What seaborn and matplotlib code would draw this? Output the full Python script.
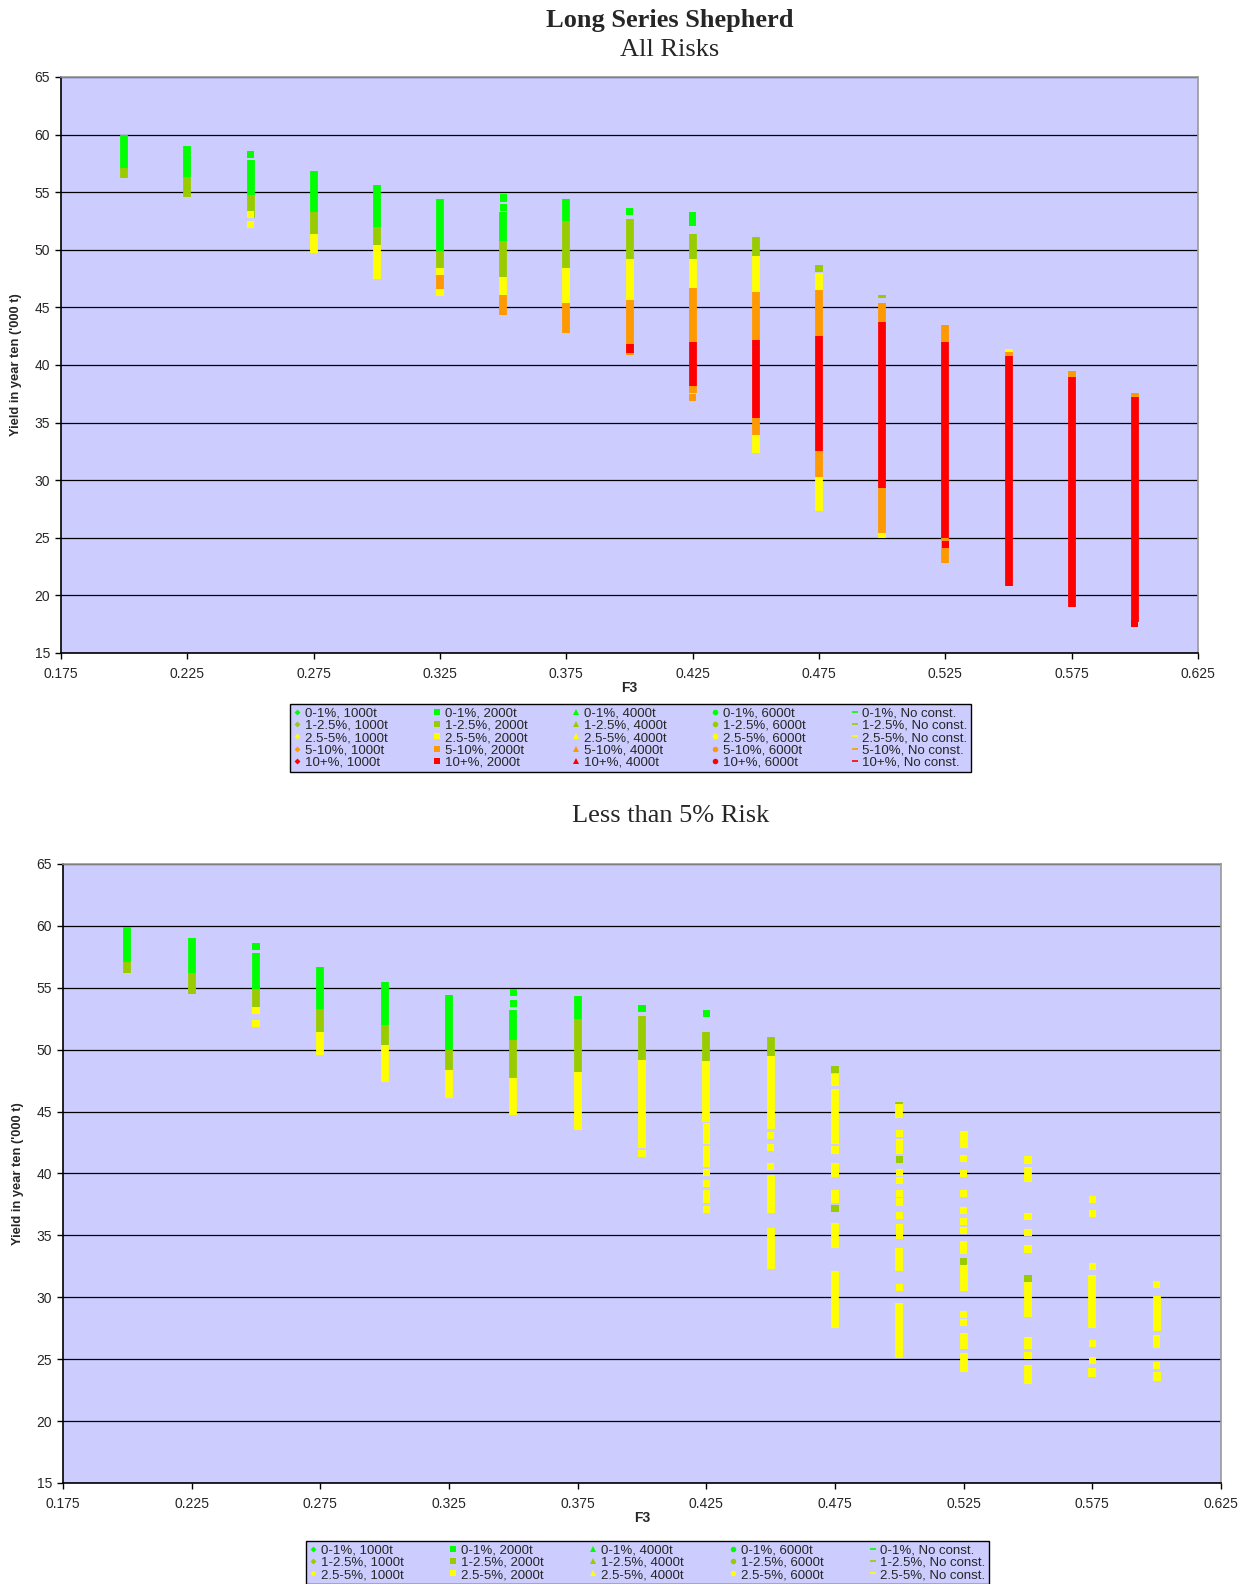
import numpy as np
import pandas as pd
import matplotlib
matplotlib.use("Agg")
import matplotlib.pyplot as plt
from matplotlib.lines import Line2D
import seaborn as sns

# ---- risk classes and colours ----
risk_levels = ["0-1%", "1-2.5%", "2.5-5%", "5-10%", "10+%"]
risk_colors = {"0-1%": "#00FF00", "1-2.5%": "#99CC00", "2.5-5%": "#FFFF00",
               "5-10%": "#FF9900", "10+%": "#FF0000"}
constraints = ["1000t", "2000t", "4000t", "6000t", "No const."]
constraint_markers = {"1000t": "D", "2000t": "s", "4000t": "^", "6000t": "o", "No const.": "_"}

# ---- All risks: dense runs of runs (F3, low, high, risk) ----
all_span_f3 = [0.200, 0.200,
               0.225, 0.225,
               0.250, 0.250,
               0.275, 0.275, 0.275,
               0.300, 0.300, 0.300,
               0.325, 0.325, 0.325, 0.325,
               0.350, 0.350, 0.350, 0.350,
               0.375, 0.375, 0.375, 0.375,
               0.400, 0.400, 0.400, 0.400,
               0.425, 0.425, 0.425, 0.425, 0.425,
               0.450, 0.450, 0.450, 0.450, 0.450, 0.450,
               0.475, 0.475, 0.475, 0.475, 0.475, 0.475,
               0.500, 0.500, 0.500, 0.500, 0.500,
               0.525, 0.525, 0.525,
               0.550, 0.550, 0.550,
               0.575, 0.575,
               0.600, 0.600]
all_span_lo = [57.0, 56.2,
               56.3, 54.6,
               54.8, 52.8,
               53.3, 51.4, 49.7,
               52.0, 50.4, 47.5,
               49.9, 48.4, 47.8, 46.4,
               50.8, 47.6, 46.1, 44.3,
               52.5, 48.4, 45.4, 42.8,
               49.2, 45.6, 40.9, 41.0,
               49.2, 46.7, 42.0, 38.2, 37.6,
               49.5, 46.3, 42.2, 35.4, 33.9, 32.4,
               48.2, 46.5, 42.5, 32.5, 30.3, 27.3,
               45.8, 43.7, 29.3, 25.4, 25.0,
               42.0, 25.0, 22.8,
               41.1, 40.8, 20.8,
               39.0, 19.0,
               37.2, 17.7]
all_span_hi = [60.0, 57.1,
               59.0, 56.3,
               57.8, 54.8,
               56.8, 53.3, 51.4,
               55.6, 52.0, 50.4,
               54.4, 49.9, 48.4, 47.8,
               53.3, 50.8, 47.6, 46.1,
               54.4, 52.5, 48.4, 45.4,
               52.7, 49.2, 45.6, 41.8,
               51.4, 49.2, 46.7, 42.0, 38.2,
               51.1, 49.5, 46.3, 42.2, 35.4, 33.9,
               48.5, 48.0, 46.5, 42.5, 32.5, 30.3,
               46.1, 45.4, 43.7, 29.3, 25.4,
               43.5, 42.0, 25.0,
               41.4, 41.1, 40.8,
               39.5, 39.0,
               37.6, 37.2]
all_span_risk = ["0-1%", "1-2.5%",
                 "0-1%", "1-2.5%",
                 "0-1%", "1-2.5%",
                 "0-1%", "1-2.5%", "2.5-5%",
                 "0-1%", "1-2.5%", "2.5-5%",
                 "0-1%", "1-2.5%", "2.5-5%", "5-10%",
                 "0-1%", "1-2.5%", "2.5-5%", "5-10%",
                 "0-1%", "1-2.5%", "2.5-5%", "5-10%",
                 "1-2.5%", "2.5-5%", "5-10%", "10+%",
                 "1-2.5%", "2.5-5%", "5-10%", "10+%", "5-10%",
                 "1-2.5%", "2.5-5%", "5-10%", "10+%", "5-10%", "2.5-5%",
                 "1-2.5%", "2.5-5%", "5-10%", "10+%", "5-10%", "2.5-5%",
                 "1-2.5%", "5-10%", "10+%", "5-10%", "2.5-5%",
                 "5-10%", "10+%", "5-10%",
                 "2.5-5%", "5-10%", "10+%",
                 "5-10%", "10+%",
                 "5-10%", "10+%"]

# ---- All risks: isolated runs ----
all_pt_f3 = [0.250, 0.250, 0.250, 0.325, 0.350, 0.350, 0.400, 0.425, 0.425, 0.425, 0.475, 0.525, 0.600]
all_pt_y = [58.3, 53.1, 52.2, 46.3, 54.5, 53.7, 53.3, 53.0, 52.4, 37.2, 48.4, 24.4, 17.6]
all_pt_risk = ["0-1%", "2.5-5%", "2.5-5%", "2.5-5%", "0-1%", "0-1%", "0-1%", "0-1%", "0-1%",
               "5-10%", "1-2.5%", "10+%", "10+%"]

# ---- Less than 5% risk: dense runs ----
low_span_f3 = [0.200, 0.200,
               0.225, 0.225,
               0.250, 0.250,
               0.275, 0.275, 0.275,
               0.300, 0.300, 0.300,
               0.325, 0.325, 0.325,
               0.350, 0.350, 0.350,
               0.375, 0.375, 0.375,
               0.400, 0.400,
               0.425, 0.425,
               0.450, 0.450, 0.450, 0.450,
               0.475, 0.475, 0.475, 0.475,
               0.500, 0.500, 0.500, 0.500,
               0.525, 0.525, 0.525, 0.525,
               0.550, 0.550, 0.550, 0.550, 0.550,
               0.575, 0.575,
               0.600, 0.600]
low_span_lo = [57.1, 56.2,
               56.2, 54.5,
               54.9, 52.9,
               53.3, 51.4, 49.6,
               52.0, 50.4, 47.4,
               50.0, 48.4, 46.1,
               50.8, 47.7, 44.7,
               52.5, 48.2, 43.5,
               49.2, 42.1,
               49.1, 44.2,
               49.5, 43.6, 36.8, 32.3,
               47.1, 42.9, 34.0, 27.5,
               44.5, 32.1, 25.1, 45.6,
               42.1, 30.5, 25.8, 24.0,
               40.8, 39.3, 28.4, 25.8, 23.0,
               27.5, 23.6,
               27.3, 23.2]
low_span_hi = [59.9, 57.1,
               59.0, 56.2,
               57.8, 54.9,
               56.7, 53.3, 51.4,
               55.5, 52.0, 50.4,
               54.4, 50.0, 48.4,
               53.2, 50.8, 47.7,
               54.3, 52.5, 48.2,
               52.7, 49.2,
               51.4, 49.1,
               51.0, 49.5, 39.9, 35.6,
               48.0, 46.8, 36.0, 32.1,
               45.6, 34.0, 29.5, 45.8,
               43.4, 32.7, 27.1, 25.5,
               41.4, 40.5, 31.2, 26.8, 24.5,
               31.8, 24.3,
               30.1, 24.0]
low_span_risk = ["0-1%", "1-2.5%",
                 "0-1%", "1-2.5%",
                 "0-1%", "1-2.5%",
                 "0-1%", "1-2.5%", "2.5-5%",
                 "0-1%", "1-2.5%", "2.5-5%",
                 "0-1%", "1-2.5%", "2.5-5%",
                 "0-1%", "1-2.5%", "2.5-5%",
                 "0-1%", "1-2.5%", "2.5-5%",
                 "1-2.5%", "2.5-5%",
                 "1-2.5%", "2.5-5%",
                 "1-2.5%", "2.5-5%", "2.5-5%", "2.5-5%",
                 "2.5-5%", "2.5-5%", "2.5-5%", "2.5-5%",
                 "2.5-5%", "2.5-5%", "2.5-5%", "1-2.5%",
                 "2.5-5%", "2.5-5%", "2.5-5%", "2.5-5%",
                 "2.5-5%", "2.5-5%", "2.5-5%", "2.5-5%", "2.5-5%",
                 "2.5-5%", "2.5-5%",
                 "2.5-5%", "2.5-5%"]

# ---- Less than 5% risk: isolated runs ----
low_pt_f3 = [0.250, 0.250, 0.250,
             0.350, 0.350,
             0.400, 0.400,
             0.425, 0.425, 0.425, 0.425, 0.425, 0.425, 0.425, 0.425, 0.425, 0.425, 0.425, 0.425,
             0.450, 0.450, 0.450,
             0.475, 0.475, 0.475, 0.475, 0.475, 0.475, 0.475, 0.475,
             0.500, 0.500, 0.500, 0.500, 0.500, 0.500, 0.500, 0.500, 0.500, 0.500, 0.500, 0.500,
             0.525, 0.525, 0.525, 0.525, 0.525, 0.525, 0.525, 0.525, 0.525, 0.525, 0.525,
             0.550, 0.550, 0.550, 0.550, 0.550,
             0.575, 0.575, 0.575, 0.575, 0.575,
             0.600, 0.600, 0.600, 0.600]
low_pt_y = [58.3, 53.2, 52.1,
            54.6, 53.7,
            53.3, 41.6,
            52.9, 43.8, 43.2, 42.7, 41.9, 41.4, 40.8, 40.1, 39.2, 38.4, 37.9, 37.1,
            43.1, 42.1, 40.6,
            48.4, 42.7, 41.9, 40.6, 40.0, 38.4, 37.9, 37.2,
            43.2, 42.5, 41.9, 41.1, 40.1, 39.4, 38.4, 37.7, 36.6, 35.6, 35.0, 30.8,
            41.2, 40.0, 38.4, 37.0, 36.1, 35.4, 34.3, 33.8, 32.9, 28.6, 28.0,
            36.5, 35.2, 33.9, 31.5, 25.3,
            37.9, 36.8, 32.5, 26.3, 24.9,
            31.0, 26.7, 26.2, 24.5]
low_pt_risk = ["0-1%", "2.5-5%", "2.5-5%",
               "0-1%", "0-1%",
               "0-1%", "2.5-5%",
               "0-1%"] + ["2.5-5%"] * 11 + \
              ["2.5-5%"] * 3 + \
              ["1-2.5%", "2.5-5%", "2.5-5%", "2.5-5%", "2.5-5%", "2.5-5%", "2.5-5%", "1-2.5%"] + \
              ["2.5-5%", "2.5-5%", "2.5-5%", "1-2.5%"] + ["2.5-5%"] * 8 + \
              ["2.5-5%"] * 8 + ["1-2.5%", "2.5-5%", "2.5-5%"] + \
              ["2.5-5%", "2.5-5%", "2.5-5%", "1-2.5%", "2.5-5%"] + \
              ["2.5-5%"] * 5 + \
              ["2.5-5%"] * 4

x_ticks = [0.175, 0.225, 0.275, 0.325, 0.375, 0.425, 0.475, 0.525, 0.575, 0.625]
y_ticks = [15, 20, 25, 30, 35, 40, 45, 50, 55, 60, 65]

# ---- styling ----
sns.set_style("white")
plt.rcParams["font.family"] = ["Liberation Sans", "DejaVu Sans"]

BG = "#CCCCFF"
RUN_WIDTH = 5.6  # points


def draw_panel(ax, span_f3, span_lo, span_hi, span_risk, pt_f3, pt_y, pt_risk):
    ax.set_facecolor(BG)
    spans = pd.DataFrame({"F3": span_f3, "lo": span_lo, "hi": span_hi, "risk": span_risk})
    pts = pd.DataFrame({"F3": pt_f3, "Yield": pt_y, "risk": pt_risk})
    ax.set_axisbelow(True)
    ax.yaxis.grid(True, color="black", linewidth=0.9)
    ax.xaxis.grid(False)
    for z, level in enumerate(risk_levels):
        sub = spans[spans["risk"] == level]
        if len(sub):
            lc = ax.vlines(sub["F3"], sub["lo"], sub["hi"], colors=risk_colors[level],
                           linewidth=RUN_WIDTH, zorder=3 + z)
            lc.set_capstyle("butt")
    sns.scatterplot(data=pts, x="F3", y="Yield", hue="risk", palette=risk_colors,
                    marker="s", s=26, linewidth=0, legend=False, ax=ax, zorder=9)
    ax.set_xlim(0.175, 0.625)
    ax.set_ylim(15, 65)
    ax.set_xticks(x_ticks)
    ax.set_xticklabels([f"{t:.3f}" for t in x_ticks])
    ax.set_yticks(y_ticks)
    ax.tick_params(axis="both", direction="out", length=4, width=1, color="black",
                   labelsize=10, bottom=True, left=True)
    ax.tick_params(axis="x", pad=6)
    ax.tick_params(axis="y", pad=4)
    ax.set_xlabel("F3", fontsize=10, fontweight="bold", labelpad=0)
    ax.set_ylabel("Yield in year ten ('000 t)", fontsize=9.3, fontweight="bold", labelpad=9)
    for side in ("left", "bottom"):
        ax.spines[side].set_color("black")
        ax.spines[side].set_linewidth(1.2)
    for side in ("top", "right"):
        ax.spines[side].set_color("#999999")
        ax.spines[side].set_linewidth(1.2)


def legend_handles(levels):
    handles, labels = [], []
    for c in constraints:
        for r in levels:
            m = constraint_markers[c]
            ms = 3.0 if m == "D" else 4.0
            handles.append(Line2D([], [], linestyle="none", marker=m, markersize=ms,
                                  color=risk_colors[r], markeredgewidth=1.2 if m == "_" else 0))
            labels.append(f"{r}, {c}")
    return handles, labels


W, H = 1250, 1584
fig = plt.figure(figsize=(W / 100, H / 100), dpi=100)

ax1 = fig.add_axes([61 / W, 1 - 653 / H, (1198 - 61) / W, (653 - 77) / H])
draw_panel(ax1, all_span_f3, all_span_lo, all_span_hi, all_span_risk, all_pt_f3, all_pt_y, all_pt_risk)

ax2 = fig.add_axes([63 / W, 1 - 1483 / H, (1221 - 63) / W, (1483 - 864) / H])
draw_panel(ax2, low_span_f3, low_span_lo, low_span_hi, low_span_risk, low_pt_f3, low_pt_y, low_pt_risk)

serif = ["Liberation Serif", "DejaVu Serif"]
fig.text(670 / W, 1 - 20 / H, "Long Series Shepherd", ha="center", va="center",
         fontsize=19, fontweight="bold", family=serif)
fig.text(670 / W, 1 - 50 / H, "All Risks", ha="center", va="center", fontsize=19, family=serif)
fig.text(671 / W, 1 - 816 / H, "Less than 5% Risk", ha="center", va="center", fontsize=19, family=serif)

for handles_levels, box in ((risk_levels, (290, 704, 971, 768)), (risk_levels[:3], (306, 1541, 989, 1584))):
    h, l = legend_handles(handles_levels)
    x0, y0, x1, y1 = box
    leg = fig.legend(h, l, ncol=5, loc="upper left", mode="expand",
                     bbox_to_anchor=(x0 / W, 1 - y1 / H, (x1 - x0) / W, (y1 - y0) / H),
                     fontsize=9.5, frameon=True, fancybox=False, framealpha=1,
                     facecolor=BG, edgecolor="black", borderpad=0.25, labelspacing=0.0,
                     handlelength=0.6, handletextpad=0.3, columnspacing=1.0, borderaxespad=0)
    leg.get_frame().set_linewidth(1.0)

fig.savefig("out.png", dpi=100)
